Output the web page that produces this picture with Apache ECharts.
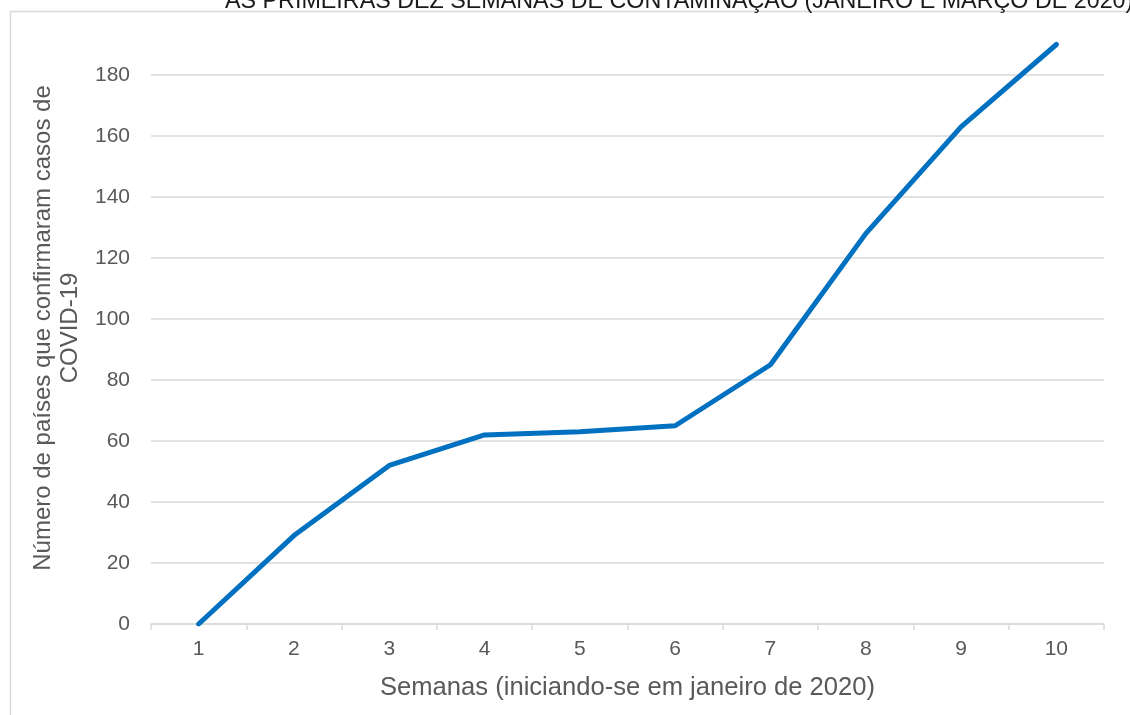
<!DOCTYPE html>
<html>
<head>
<meta charset="utf-8">
<script src="https://cdn.jsdelivr.net/npm/echarts@6/dist/echarts.min.js"></script>
<style>
  html, body { margin: 0; padding: 0; background: #ffffff; }
  #chart { width: 1130px; height: 715px; }
</style>
</head>
<body>
<div id="chart"></div>
<script>
// Weekly count of countries with confirmed COVID-19 cases
const weeks = ['1', '2', '3', '4', '5', '6', '7', '8', '9', '10'];
const countries = [0, 29, 52, 62, 63, 65, 85, 128, 163, 190];
const yTicks = [0, 20, 40, 60, 80, 100, 120, 140, 160, 180, 200];

const titleText = 'AS PRIMEIRAS DEZ SEMANAS DE CONTAMINAÇÃO (JANEIRO E MARÇO DE 2020)';
const xName = 'Semanas (iniciando-se em janeiro de 2020)';
const yName = 'Número de países que confirmaram casos de\nCOVID-19';

const FONT = '"Liberation Sans", Arial, sans-serif';
const GRID = '#d9d9d9';
const TEXT = '#595959';

// one colour per horizontal gridline, the top one (200) left invisible
const gridColors = yTicks.map((v, i) => (i === yTicks.length - 1 ? 'rgba(0,0,0,0)' : GRID));

const chart = echarts.init(document.getElementById('chart'), null, { renderer: 'canvas' });

chart.setOption({
  backgroundColor: '#ffffff',
  animation: false,
  title: {
    text: titleText,
    left: 220,
    top: -15,
    textStyle: { fontFamily: FONT, fontSize: 23.3, fontWeight: 'normal', color: '#1a1a1a' }
  },
  graphic: [{
    type: 'rect',
    silent: true,
    z: -1,
    shape: { x: 10.5, y: 11.5, width: 1200, height: 800 },
    style: { fill: 'none', stroke: GRID, lineWidth: 1.5 }
  }],
  grid: { left: 151, right: 26, top: 14, bottom: 91 },
  xAxis: {
    type: 'category',
    data: weeks,
    boundaryGap: true,
    name: xName,
    nameLocation: 'middle',
    nameGap: 51,
    nameTextStyle: { fontFamily: FONT, fontSize: 25.6, color: TEXT },
    axisLine: { show: true, lineStyle: { color: GRID, width: 1.5 } },
    axisTick: { show: true, length: 6, alignWithLabel: false, lineStyle: { color: GRID, width: 1.5 } },
    axisLabel: { fontFamily: FONT, fontSize: 21, color: TEXT, margin: 15 },
    splitLine: { show: false }
  },
  yAxis: {
    type: 'value',
    min: yTicks[0],
    max: yTicks[yTicks.length - 1],
    interval: yTicks[1] - yTicks[0],
    name: yName,
    nameLocation: 'middle',
    nameRotate: 90,
    nameGap: 65,
    nameTextStyle: {
      fontFamily: FONT, fontSize: 24, color: TEXT, lineHeight: 27, align: 'center',
      padding: [0, 18, 0, 0]
    },
    axisLine: { show: false },
    axisTick: { show: false },
    axisLabel: { fontFamily: FONT, fontSize: 21, color: TEXT, margin: 21, showMaxLabel: false },
    splitLine: { show: true, lineStyle: { color: gridColors, width: 1.5 } }
  },
  series: [{
    type: 'line',
    data: countries,
    symbol: 'none',
    smooth: false,
    lineStyle: { color: '#0070c0', width: 5, cap: 'round', join: 'round' },
    z: 5
  }]
});
</script>
</body>
</html>
